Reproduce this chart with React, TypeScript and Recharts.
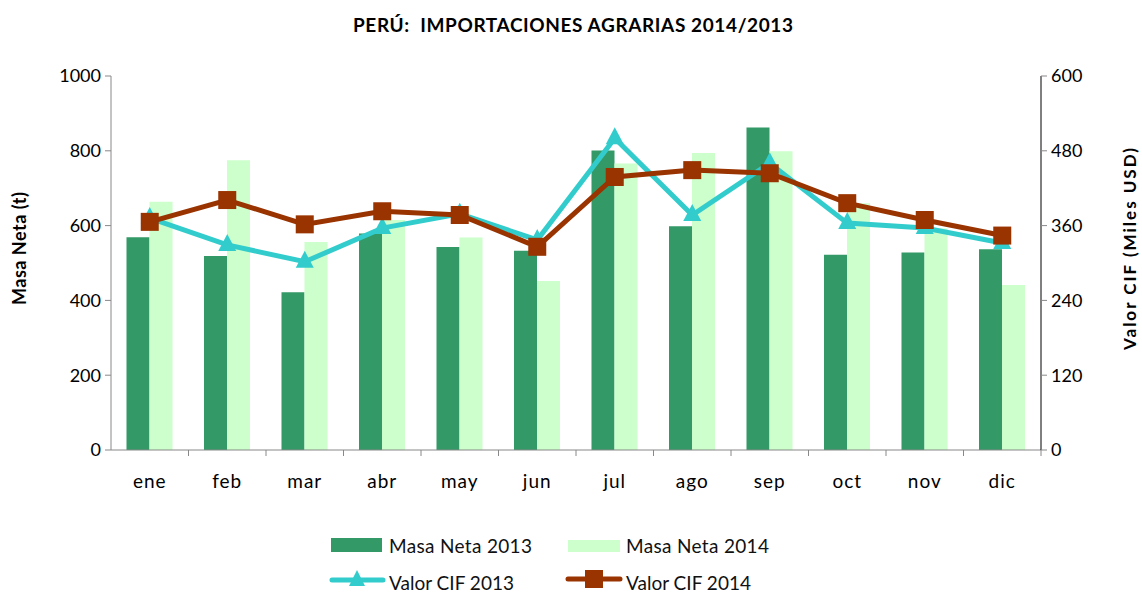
import {
  Bar,
  ComposedChart,
  Line,
  XAxis,
  YAxis,
} from "recharts";

const months = ["ene", "feb", "mar", "abr", "may", "jun", "jul", "ago", "sep", "oct", "nov", "dic"];
const masa2013 = [569, 519, 422, 579, 543, 533, 801, 598, 862, 522, 528, 537];
const masa2014 = [664, 775, 556, 615, 568, 452, 766, 794, 799, 660, 592, 441];
const cif2013 = [372, 329, 302, 356, 379, 337, 500, 377, 460, 364, 356, 332];
const cif2014 = [366, 401, 362, 383, 377, 326, 438, 449, 444, 396, 369, 344];
const leftTicks = [0, 200, 400, 600, 800, 1000];
const rightTicks = [0, 120, 240, 360, 480, 600];

const FONT = "Lato, 'Open Sans', sans-serif";
const BAND = 930 / 12;

const data = months.map((m, i) => ({
  month: m,
  masa2013: masa2013[i],
  masa2014: masa2014[i],
  cif2013: cif2013[i],
  cif2014: cif2014[i],
}));

const SquareDot = (props: any) => {
  const { cx, cy, index } = props;
  if (cx == null || cy == null) return null;
  return <rect key={`sq-${index}`} x={cx - 9} y={cy - 9} width={18} height={18} fill="#993300" />;
};

const TriDot = (props: any) => {
  const { cx, cy, index } = props;
  if (cx == null || cy == null) return null;
  return (
    <polygon
      key={`tr-${index}`}
      points={`${cx},${cy - 11} ${cx - 9},${cy + 6} ${cx + 9},${cy + 6}`}
      fill="#33CCCC"
    />
  );
};

const MonthTick = (props: any) => {
  const { x, y, payload } = props;
  return (
    <g>
      <line x1={x + BAND / 2} x2={x + BAND / 2} y1={y - 8} y2={y - 2} stroke="#888" />
      <text x={x} y={y + 30} textAnchor="middle" fontSize={19} fill="#000" fontFamily={FONT} letterSpacing={1}>
        {payload.value}
      </text>
    </g>
  );
};

const legendText = { fontSize: 19, fontFamily: FONT, fill: "#111", lengthAdjust: "spacing" as const };

export default function App() {
  return (
    <div style={{ position: "absolute", left: 0, top: 0, width: 1142, height: 594, background: "#fff" }}>
      <ComposedChart
        width={1142}
        height={594}
        data={data}
        margin={{ top: 76, right: 0, left: 0, bottom: 104 }}
        barGap={0}
        barCategoryGap="20%"
      >
        <XAxis
          dataKey="month"
          height={40}
          axisLine={{ stroke: "#888" }}
          tickLine={false}
          tick={<MonthTick />}
          interval={0}
        />
        <YAxis
          yAxisId="left"
          width={111}
          domain={[0, 1000]}
          ticks={leftTicks}
          axisLine={{ stroke: "#888" }}
          tickLine={{ stroke: "#888" }}
          tickSize={6}
          tick={{ fontSize: 18, fill: "#000", fontFamily: FONT }}
          tickMargin={4}
        />
        <YAxis
          yAxisId="right"
          orientation="right"
          width={101}
          domain={[0, 600]}
          ticks={rightTicks}
          axisLine={{ stroke: "#000" }}
          tickLine={{ stroke: "#888" }}
          tickSize={6}
          tick={{ fontSize: 18, fill: "#000", fontFamily: FONT }}
          tickMargin={4}
        />
        <Bar yAxisId="left" dataKey="masa2013" fill="#339966" isAnimationActive={false} />
        <Bar yAxisId="left" dataKey="masa2014" fill="#CCFFCC" isAnimationActive={false} />
        <Line
          yAxisId="right"
          dataKey="cif2013"
          stroke="#33CCCC"
          strokeWidth={5}
          dot={<TriDot />}
          activeDot={false}
          isAnimationActive={false}
        />
        <Line
          yAxisId="right"
          dataKey="cif2014"
          stroke="#993300"
          strokeWidth={5}
          dot={<SquareDot />}
          activeDot={false}
          isAnimationActive={false}
        />
      </ComposedChart>
      <svg
        width={1142}
        height={594}
        style={{ position: "absolute", left: 0, top: 0, pointerEvents: "none" }}
      >
        <text
          x={353}
          y={32}
          fontSize={19}
          fontWeight="bold"
          fontFamily={FONT}
          fill="#000"
          textLength={440}
          lengthAdjust="spacing"
          style={{ whiteSpace: "pre" }}
        >
          PERÚ:  IMPORTACIONES AGRARIAS 2014/2013
        </text>
        <text
          x={26}
          y={305}
          transform="rotate(-90 26 305)"
          fontSize={18}
          fontWeight="bold"
          fontFamily={FONT}
          fill="#000"
          textLength={113}
          lengthAdjust="spacing"
        >
          Masa Neta (t)
        </text>
        <text
          x={1136}
          y={350}
          transform="rotate(-90 1136 350)"
          fontSize={17}
          fontWeight="bold"
          fontFamily={FONT}
          fill="#000"
          textLength={202}
          lengthAdjust="spacing"
        >
          Valor CIF (Miles USD)
        </text>
        <rect x={331} y={538} width={51} height={14} fill="#339966" />
        <text x={389} y={553} textLength={143} {...legendText}>Masa Neta 2013</text>
        <rect x={568} y={540} width={52} height={12} fill="#CCFFCC" />
        <text x={626} y={553} textLength={143} {...legendText}>Masa Neta 2014</text>
        <line x1={332} x2={383} y1={580} y2={580} stroke="#33CCCC" strokeWidth={5} strokeLinecap="round" />
        <polygon points="357,570 349,586 365,586" fill="#33CCCC" />
        <text x={389} y={590} textLength={125} {...legendText}>Valor CIF 2013</text>
        <line x1={568} x2={620} y1={579} y2={579} stroke="#993300" strokeWidth={5} strokeLinecap="round" />
        <rect x={585} y={570} width={18} height={18} fill="#993300" />
        <text x={626} y={590} textLength={125} {...legendText}>Valor CIF 2014</text>
      </svg>
    </div>
  );
}
